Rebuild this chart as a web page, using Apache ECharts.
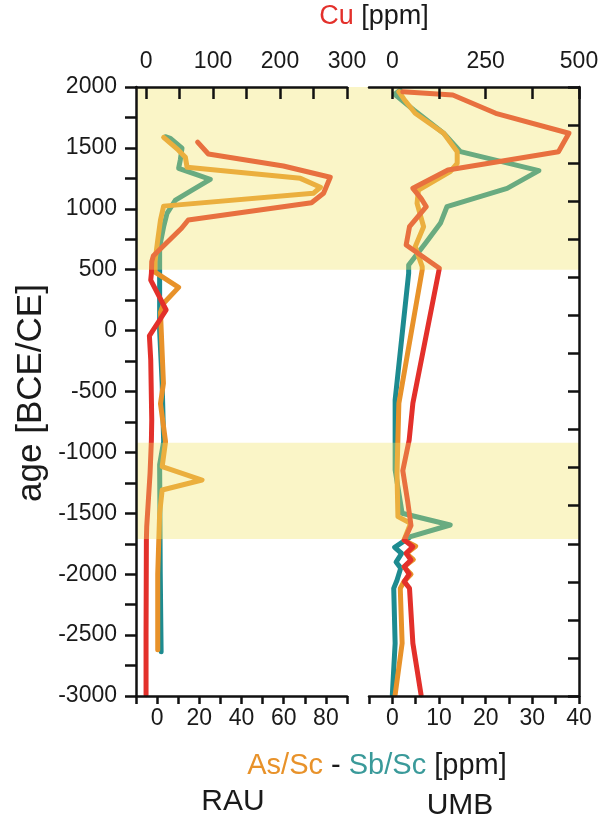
<!DOCTYPE html>
<html>
<head>
<meta charset="utf-8">
<script src="https://cdn.jsdelivr.net/npm/echarts@6/dist/echarts.min.js"></script>
<style>
  html, body { margin: 0; padding: 0; background: #ffffff; }
  #chart { width: 602px; height: 822px; }
</style>
</head>
<body>
<div id="chart"></div>
<script>
// Sediment profiles: age (BCE/CE) against Cu, As/Sc and Sb/Sc for the RAU and UMB cores.

// ---- RAU core ----
const rauCuAge = [1548, 1450, 1351, 1259, 1127, 1050, 908, 840, 615, 566, 470, 415, 169, -44, -241, -734, -898, -1170, -1390, -1612, -1720, -2500, -2990];
const rauCu    = [77, 93, 205, 275, 265, 247, 63, 53, 11, 8.5, 8, 7, 30, 5, 7, 8.5, 8, 6, 3.5, 1, 0.5, 0, 0];

const rauAsAge = [1587, 1483, 1423, 1341, 1250, 1177, 1127, 1022, 908, 744, 566, 480, 355, 224, 150, -433, -600, -912, -1117, -1227, -1309, -1500, -2000, -2620];
const rauAs    = [3.1, 10, 13.4, 14.2, 67.9, 77.4, 74, 3.1, 1.6, 0.3, -1, -1, 10.2, 3.1, 1.6, 3, 1.6, 4, 2.4, 21.3, 2.4, 1.2, 0.3, 0.3];

const rauSbAge = [1592, 1579, 1497, 1401, 1332, 1242, 1154, 1072, 963, 853, 689, 525, 0, -433, -912, -1100, -2000, -2636];
const rauSb    = [3.9, 6.3, 11.8, 11, 10.2, 25.2, 16.6, 8.7, 4.7, 3.1, 1.2, 1.2, 1.2, 2.4, 3.1, 1.2, 1.5, 1.9];

// ---- UMB core ----
const umbCuAge = [1961, 1934, 1784, 1620, 1469, 1319, 1168, 1086, 1017, 853, 703, 512, -597, -900, -1150, -1400, -1600, -1720, -1774, -1829, -1884, -1938, -2000, -2061, -2116, -2567, -2990];
const umbCu    = [28, 162, 277, 473, 445, 149, 55, 77, 91, 46, 37, 126, 55, 45, 28, 41, 50, 32, 55, 37, 50, 32, 45, 32, 46, 55, 77];

const umbAsAge = [1961, 1900, 1784, 1620, 1469, 1373, 1305, 1154, 1045, 853, 689, 525, 498, -597, -1172, -1527, -1582, -1720, -1770, -1830, -1880, -1940, -2000, -2060, -2116, -2567, -2990];
const umbAs    = [1.4, 2.5, 4.9, 11, 13.9, 13.9, 12.4, 5.6, 5.3, 6.7, 4.9, 6.4, 6.4, 1.4, 1.0, 1.2, 3.9, 2.5, 5, 3, 4.5, 2.5, 4, 2.5, 1.7, 2.1, 0.6];

const umbSbAge = [1975, 1940, 1811, 1620, 1469, 1313, 1168, 1017, 881, 717, 539, 470, -570, -1144, -1500, -1596, -1692, -1780, -1830, -1900, -1950, -2050, -2116, -2567, -2990];
const umbSb    = [1.7, 0.5, 4.6, 11, 14.6, 31.4, 24.6, 11.7, 10.3, 7.1, 3.5, 3.5, 0.6, 0.6, 2.1, 12.4, 3.9, 0.5, 2, 0.8, 1.8, 1.0, 0.3, 0.6, 0];

// ---- shaded periods (age ranges) ----
const bandFrom = [500, -1710];
const bandTo   = [2000, -920];

// ---- axis ticks and labels ----
const ageTicks   = [-3000, -2750, -2500, -2250, -2000, -1750, -1500, -1250, -1000, -750, -500, -250, 0, 250, 500, 750, 1000, 1250, 1500, 1750, 2000];
const ageLabels  = [-3000, -2500, -2000, -1500, -1000, -500, 0, 500, 1000, 1500, 2000];
const umbAgeTicks = [-3000, -2687.5, -2375, -2062.5, -1750, -1437.5, -1125, -812.5, -500, -187.5, 125, 437.5, 750, 1062.5, 1375, 1687.5, 2000];
const rauRatioTicks  = [-10, 0, 10, 20, 30, 40, 50, 60, 70, 80, 90];
const rauRatioLabels = [0, 20, 40, 60, 80];
const rauCuTicks  = [0, 50, 100, 150, 200, 250, 300];
const rauCuLabels = [0, 100, 200, 300];
const umbRatioTicks  = [-5, 0, 5, 10, 15, 20, 25, 30, 35, 40];
const umbRatioLabels = [0, 10, 20, 30, 40];
const umbCuTicks  = [0, 125, 250, 375, 500];
const umbCuLabels = [0, 250, 500];

const COL_CU = '#e3302b';
const COL_AS = '#e8922a';
const COL_SB = '#1d8b90';
const FONT = "'Liberation Sans', Arial, sans-serif";

const pairs = (vals, ages) => vals.map((v, i) => [v, ages[i]]);

const chart = echarts.init(document.getElementById('chart'), null, { renderer: 'canvas' });

const axisLineStyle = { color: '#111', width: 2.5 };
const tickStyle = { color: '#111', width: 2.5 };
const labelStyle = { color: '#1a1a1a', fontSize: 23, fontFamily: FONT };

function xValueAxis(opts) {
  return Object.assign({
    type: 'value',
    z: 20,
    splitLine: { show: false },
    axisLine: { show: true, onZero: false, lineStyle: axisLineStyle },
  }, opts);
}

function profileLine(name, data, color, xi, yi) {
  return {
    name, type: 'line', data, xAxisIndex: xi, yAxisIndex: yi,
    symbol: 'none', z: 2,
    lineStyle: { color, width: 5, join: 'round', cap: 'round' },
    silent: true
  };
}

const option = {
  animation: false,
  backgroundColor: '#ffffff',
  grid: [
    { left: 136, top: 87, width: 211, height: 609 },
    { left: 369, top: 87, width: 210, height: 609 },
    { left: 136, top: 87, width: 443, height: 609 }
  ],
  xAxis: [
    xValueAxis({
      gridIndex: 0, position: 'bottom', min: -10, max: 90,
      axisTick: { show: true, inside: false, length: 8, lineStyle: tickStyle, customValues: rauRatioTicks },
      axisLabel: Object.assign({ margin: 11, customValues: rauRatioLabels, formatter: v => String(v) }, labelStyle)
    }),
    xValueAxis({
      gridIndex: 0, position: 'top', min: -15, max: 300,
      axisTick: { show: true, inside: true, length: 12, lineStyle: tickStyle, customValues: rauCuTicks },
      axisLabel: Object.assign({ margin: 14, customValues: rauCuLabels, formatter: v => String(v) }, labelStyle)
    }),
    xValueAxis({
      gridIndex: 1, position: 'bottom', min: -5, max: 40,
      axisTick: { show: true, inside: false, length: 8, lineStyle: tickStyle, customValues: umbRatioTicks },
      axisLabel: Object.assign({ margin: 11, customValues: umbRatioLabels, formatter: v => String(v) }, labelStyle)
    }),
    xValueAxis({
      gridIndex: 1, position: 'top', min: -62.5, max: 500,
      axisTick: { show: true, inside: true, length: 12, lineStyle: tickStyle, customValues: umbCuTicks },
      axisLabel: Object.assign({ margin: 14, customValues: umbCuLabels, formatter: v => String(v) }, labelStyle)
    }),
    { type: 'value', gridIndex: 2, min: 0, max: 1, show: false }
  ],
  yAxis: [
    {
      type: 'value', gridIndex: 0, position: 'left', min: -3000, max: 2000, z: 20,
      splitLine: { show: false },
      axisLine: { show: true, onZero: false, lineStyle: axisLineStyle },
      axisTick: { show: true, inside: false, length: 11, lineStyle: tickStyle, customValues: ageTicks },
      axisLabel: Object.assign({ margin: 19, customValues: ageLabels, formatter: v => String(v) }, labelStyle)
    },
    {
      type: 'value', gridIndex: 1, position: 'right', min: -3000, max: 2000, z: 20,
      splitLine: { show: false },
      axisLine: { show: true, onZero: false, lineStyle: axisLineStyle },
      axisTick: { show: true, inside: true, length: 11, lineStyle: tickStyle, customValues: umbAgeTicks },
      axisLabel: { show: false }
    },
    { type: 'value', gridIndex: 2, min: -3000, max: 2000, show: false }
  ],
  series: [
    profileLine('RAU Sb/Sc', pairs(rauSb, rauSbAge), COL_SB, 0, 0),
    profileLine('RAU As/Sc', pairs(rauAs, rauAsAge), COL_AS, 0, 0),
    profileLine('RAU Cu', pairs(rauCu, rauCuAge), COL_CU, 1, 0),
    profileLine('UMB Sb/Sc', pairs(umbSb, umbSbAge), COL_SB, 2, 1),
    profileLine('UMB As/Sc', pairs(umbAs, umbAsAge), COL_AS, 2, 1),
    profileLine('UMB Cu', pairs(umbCu, umbCuAge), COL_CU, 3, 1),
    {
      // translucent wash over the two highlighted periods, drawn above the profiles
      name: 'periods', type: 'line', xAxisIndex: 4, yAxisIndex: 2, z: 6,
      data: [], symbol: 'none', silent: true,
      markArea: {
        silent: true, z: 10,
        itemStyle: { color: 'rgba(240,228,100,0.36)' },
        data: bandFrom.map((f, i) => [{ yAxis: f }, { yAxis: bandTo[i] }])
      }
    }
  ],
  graphic: [
    {
      type: 'text', x: 374, y: 17, z: 30,
      style: {
        text: '{cu|Cu} [ppm]', align: 'center', verticalAlign: 'middle',
        fill: '#1a1a1a', font: '27px ' + FONT,
        rich: { cu: { fill: COL_CU, font: '27px ' + FONT } }
      }
    },
    {
      type: 'text', x: 31, y: 393, rotation: Math.PI / 2, z: 30,
      style: {
        text: 'age [BCE/CE]', align: 'center', verticalAlign: 'middle',
        fill: '#1a1a1a', font: '35px ' + FONT
      }
    },
    {
      type: 'text', x: 377, y: 766, z: 30,
      style: {
        text: '{as|As/Sc} - {sb|Sb/Sc} [ppm]', align: 'center', verticalAlign: 'middle',
        fill: '#1a1a1a', font: '29px ' + FONT,
        rich: {
          as: { fill: COL_AS, font: '29px ' + FONT },
          sb: { fill: '#3a9a9a', font: '29px ' + FONT }
        }
      }
    },
    {
      type: 'text', x: 233, y: 802, z: 30,
      style: { text: 'RAU', align: 'center', verticalAlign: 'middle', fill: '#1a1a1a', font: '30px ' + FONT }
    },
    {
      type: 'text', x: 460, y: 806, z: 30,
      style: { text: 'UMB', align: 'center', verticalAlign: 'middle', fill: '#1a1a1a', font: '30px ' + FONT }
    }
  ]
};

chart.setOption(option);
</script>
</body>
</html>
